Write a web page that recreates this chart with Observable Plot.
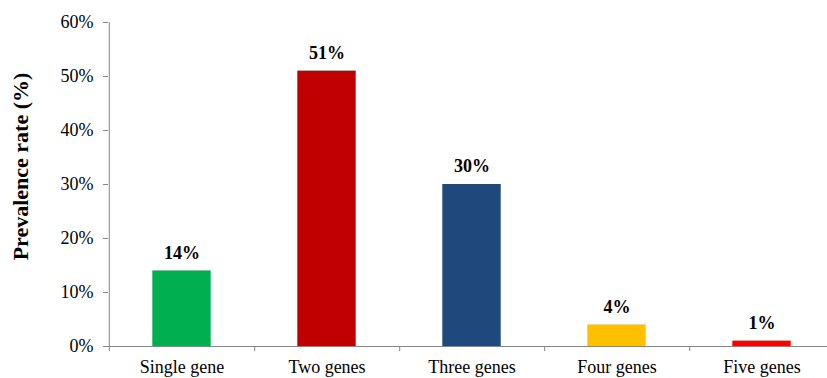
<!DOCTYPE html>
<html>
<head>
<meta charset="utf-8">
<script src="https://cdn.jsdelivr.net/npm/d3@7"></script>
<script src="https://cdn.jsdelivr.net/npm/@observablehq/plot@0.6"></script>
<style>
  html, body { margin: 0; padding: 0; background: #fff; }
  #chart svg { display: block; }
</style>
</head>
<body>
<div id="chart"></div>
<script>
const categories = ["Single gene", "Two genes", "Three genes", "Four genes", "Five genes"];
const values = [14, 51, 30, 4, 1];
const colors = ["#00B050", "#C00000", "#1F497D", "#FFC000", "#FF0000"];
const yTicks = [0, 10, 20, 30, 40, 50, 60];
const yLabel = "Prevalence rate (%)";

const data = categories.map((c, i) => ({category: c, value: values[i], color: colors[i]}));
const axisColor = "#868686";
const font = "'Liberation Serif', 'Times New Roman', serif";
const W = 827, H = 378, ML = 108, MT = 22, MB = 32;
const xRange = [ML, 835];
const band = (xRange[1] - xRange[0]) / categories.length;

const chart = Plot.plot({
  width: W,
  height: H,
  marginLeft: ML,
  marginTop: MT,
  marginBottom: MB,
  marginRight: 0,
  style: {fontFamily: font, fontSize: "18px", color: "#000", background: "#fff"},
  x: {domain: categories, range: xRange, padding: 0},
  y: {domain: [0, 60], ticks: yTicks},
  marks: [
    Plot.barY(data, {x: "category", y: "value", fill: "color", insetLeft: 43.3, insetRight: 43.3}),
    Plot.axisY({ticks: yTicks, tickFormat: d => d + "%", tickSize: 5, tickPadding: 10, stroke: axisColor, label: null, fill: "#000", fontSize: 18}),
    Plot.ruleX([0], {x: () => categories[0], dx: -band / 2, y1: -0.95, y2: 60, stroke: axisColor, strokeWidth: 1}),
    Plot.ruleY([0], {stroke: axisColor}),
    Plot.ruleX(categories, {x: d => d, dx: band / 2, y1: 0, y2: -0.95, stroke: axisColor}),
    Plot.axisX({tickSize: 0, tickPadding: 14, label: null, fill: "#000", fontSize: 18}),
    Plot.text(data, {x: "category", y: "value", text: d => d.value + "%", dy: -18, fontWeight: "bold", fontSize: 18, fill: "#000"}),
    Plot.text([yLabel], {frameAnchor: "left", textAnchor: "middle", text: d => d, rotate: -90, dx: -88, dy: -18, fontWeight: "bold", fontSize: 22, fill: "#000"})
  ]
});
document.getElementById("chart").appendChild(chart);
</script>
</body>
</html>
